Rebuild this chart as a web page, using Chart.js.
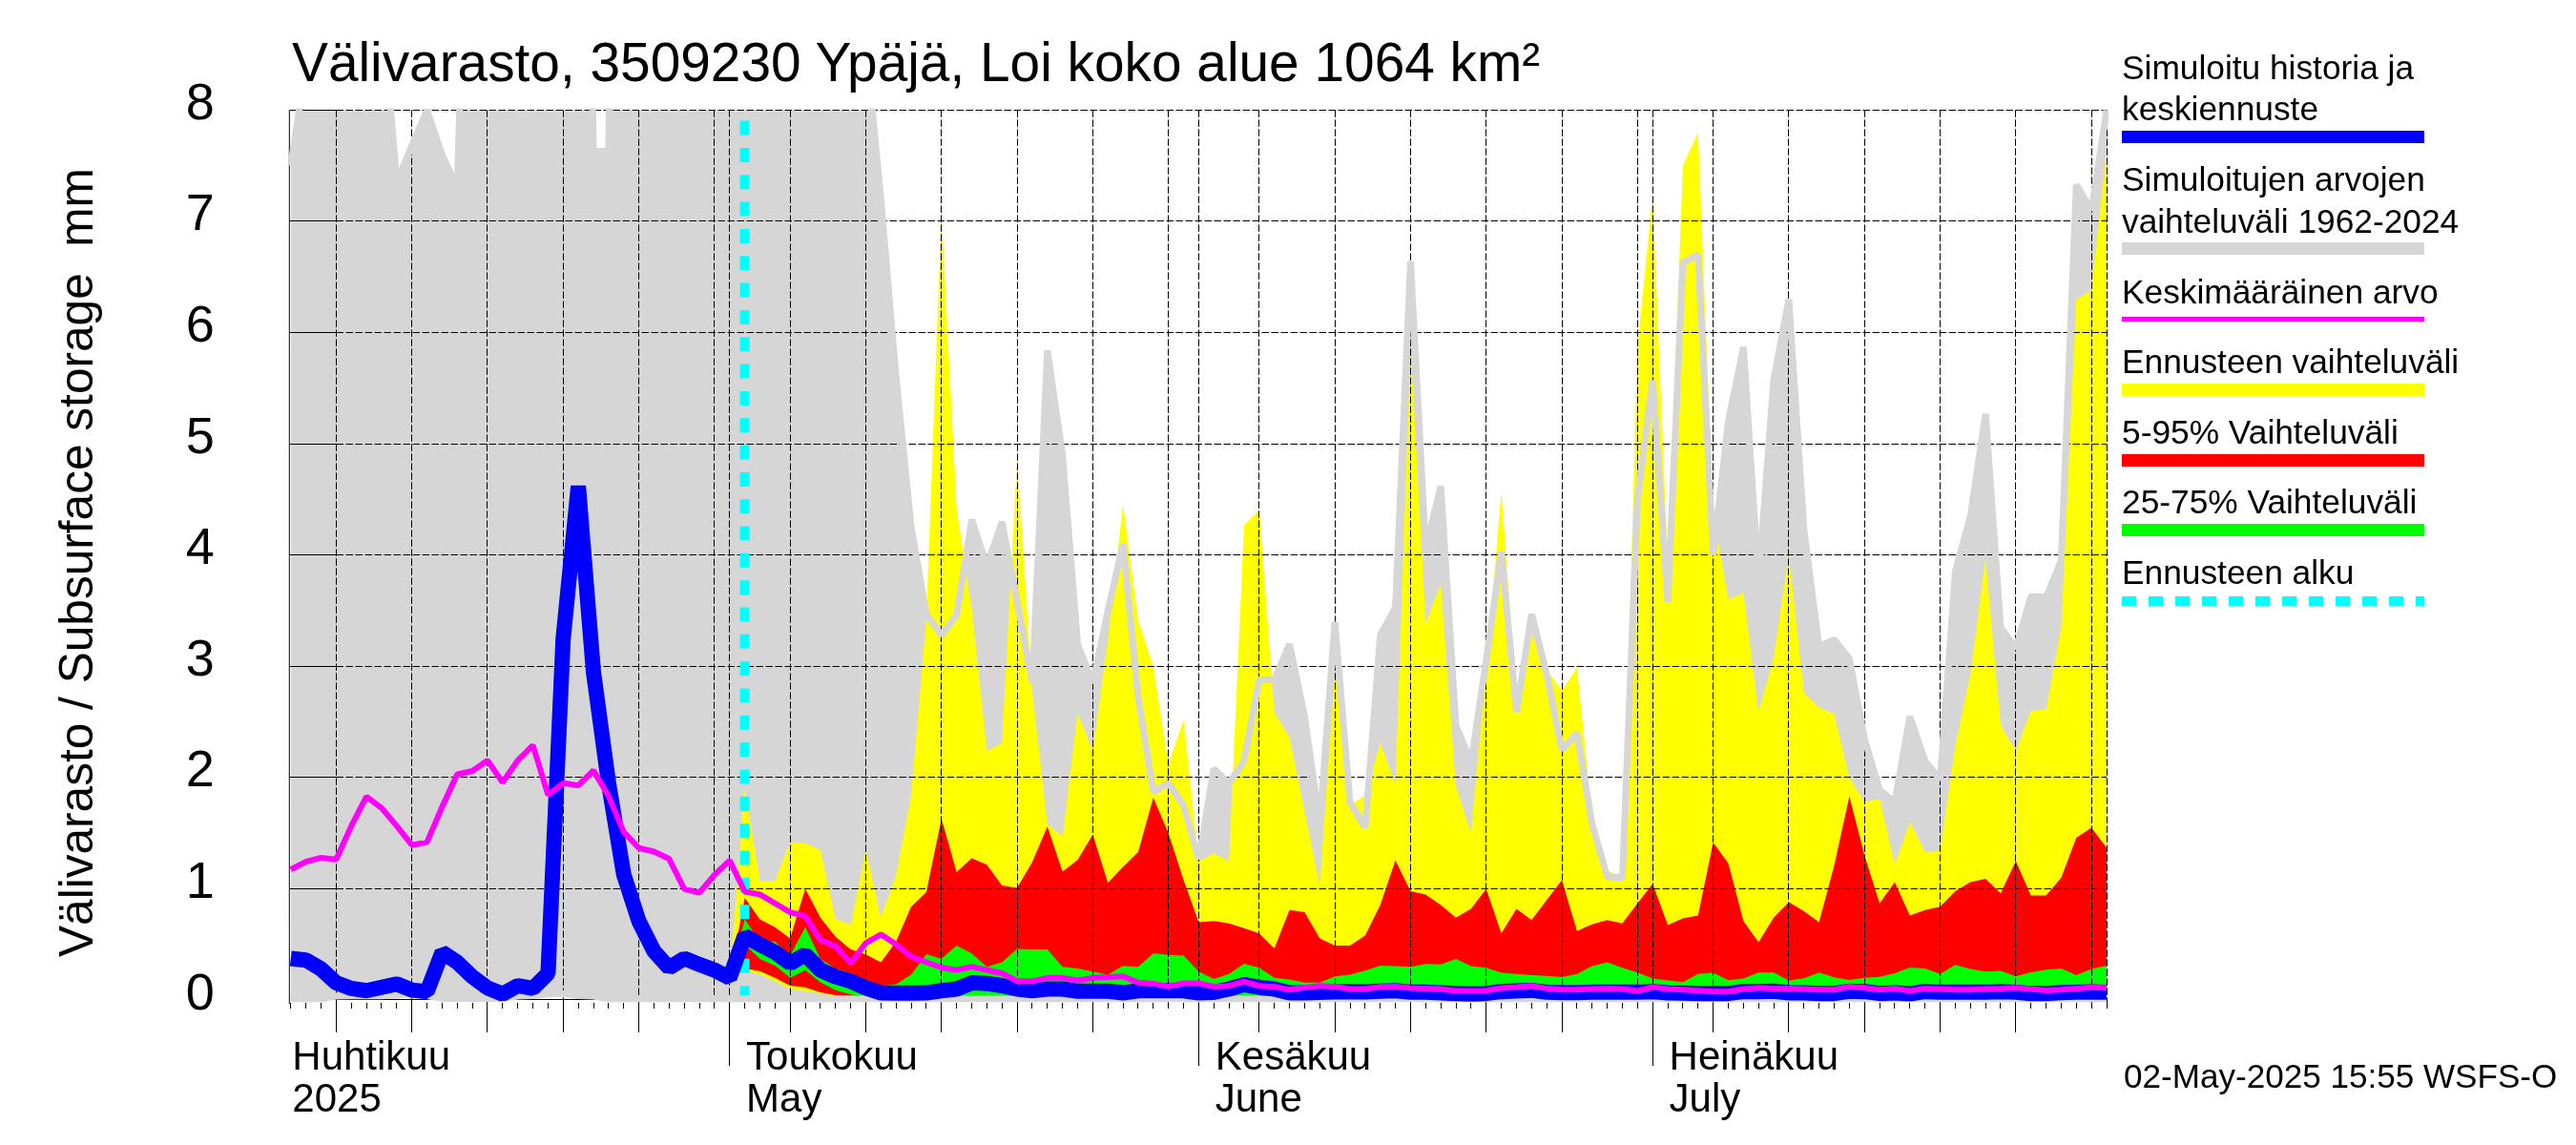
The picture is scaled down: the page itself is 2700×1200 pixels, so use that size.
<!DOCTYPE html>
<html>
<head>
<meta charset="utf-8">
<title>Välivarasto</title>
<script src="https://cdn.jsdelivr.net/npm/chart.js@4"></script>
<style>
    html, body { margin: 0; padding: 0; background: #ffffff; }
    #wrap { position: relative; width: 2700px; height: 1200px; overflow: hidden; }
    #chart { position: absolute; left: 0; top: 0; }
    .txt { position: absolute; white-space: pre; color: #000; line-height: 1; font-family: "Liberation Sans", sans-serif; }
    .swatch { position: absolute; left: 2224px; width: 317px; }
</style>
</head>
<body>
<div id="wrap"><canvas id="chart" width="2700" height="1200"></canvas></div>
<script>
// Values, one per day from 2 April to 31 July 2025
const beforeForecast = Array(29).fill(null);

const greyHigh = [
    7.5, 8.4, 9, 9.5, 9, 8.8, 9, 7.35, 7.68, 8.0,
    7.6, 7.3, 12, 10, 10, 10, 10, 10, 10, 16,
    7.63, 7.63, 16, 10, 10, 10, 10, 10, 10, 10,
    10, 10, 10, 10, 10, 10, 10, 10, 8.6, 7.2,
    5.6, 4.25, 3.47, 3.28, 3.46, 4.32, 3.9, 4.3, 3.58, 2.85,
    5.84, 4.9, 3.2, 2.85, 3.5, 4.1, 2.72, 1.87, 1.95, 1.75,
    1.27, 2.08, 1.95, 2.15, 2.88, 2.88, 3.2, 2.55, 1.58, 3.4,
    1.78, 1.55, 3.28, 3.53, 6.64, 4.06, 4.62, 2.47, 2.14, 3.05,
    4.03, 2.59, 3.47, 2.93, 2.25, 2.4, 1.58, 1.11, 1.10, 4.5,
    5.57, 3.58, 6.63, 6.7, 4.0, 5.2, 5.87, 3.77, 5.58, 6.3,
    4.23, 3.18, 3.24, 3.07, 2.35, 1.89, 1.78, 2.55, 2.15, 1.98,
    3.85, 4.35, 5.27, 3.35, 3.16, 3.63, 3.62, 3.95, 7.33, 7.1,
    8.0
];
const greyLow = [
    .012, .012, .012, .035, .037, .037, .038, .045, .055, .04,
    .015, .015, .015, .015, .015, .035, .04, .055, .06, .04,
    .035, .012, .012, .012, .012, .012, .012, .012, .012, .012,
    .012, .012, .012, .012, .012, .012, .012, .012, .012, .012,
    .012, .012, .012, .012, .012, .012, .012, .012, .012, .012,
    .012, .012, .012, .012, .012, .012, .012, .012, .012, .012,
    .012, .012, .012, .012, .012, .012, .012, .012, .012, .012,
    .012, .012, .012, .012, .012, .012, .012, .012, .012, .012,
    .012, .012, .012, .012, .012, .012, .012, .012, .012, .012,
    .012, .012, .012, .012, .012, .012, .012, .012, .012, .012,
    .012, .012, .012, .012, .012, .012, .012, .012, .012, .012,
    .012, .012, .012, .012, .012, .012, .012, .012, .012, .012,
    .012
];
const yellowHigh = [...beforeForecast,
    .2,
    1.90, 1.07, 1.07, 1.42, 1.41, 1.35, .73, .675, 1.35, .74,
    1.125, 1.84, 3.43, 7.09, 4.42, 3.52, 2.24, 2.31, 4.88, 2.78,
    1.58, 1.47, 2.58, 2.24, 3.24, 4.46, 3.41, 3.0, 2.12, 2.52,
    1.25, 1.32, 1.25, 4.27, 4.4, 2.59, 2.36, 1.69, 1.03, 2.95,
    1.75, 1.84, 2.31, 1.94, 5.88, 3.39, 3.74, 1.92, 1.5, 2.97,
    4.57, 2.72, 3.3, 2.97, 2.78, 2.99, 1.65, 1.17, 1.10, 5.88,
    7.24, 3.93, 7.5, 7.8, 4.39, 3.6, 3.66, 2.59, 3.08, 4.0,
    2.76, 2.63, 2.57, 2.0, 1.78, 1.81, 1.22, 1.6, 1.33, 1.34,
    2.29, 2.93, 3.97, 2.47, 2.24, 2.6, 2.61, 3.35, 6.3, 6.38,
    7.64
];
const yellowLow = [...beforeForecast,
    .2,
    .256, .23, .17, .10, .08, .06, .03, .02, .012, .01,
    .03, .03, .03, .03, .03, .03, .03, .03, .03, .03,
    .03, .03, .03, .03, .03, .03, .03, .03, .03, .03,
    .03, .03, .03, .03, .03, .03, .03, .03, .03, .03,
    .03, .03, .03, .03, .03, .03, .03, .03, .03, .03,
    .03, .03, .03, .03, .03, .03, .03, .03, .03, .03,
    .03, .03, .03, .03, .03, .03, .03, .03, .03, .03,
    .03, .03, .03, .03, .03, .03, .03, .03, .03, .03,
    .03, .03, .03, .03, .03, .03, .03, .03, .03, .03,
    .03
];
const redHigh = [...beforeForecast,
    .2,
    .92, .727, .655, .555, 1.0, .74, .57, .456, .41, .34,
    .527, .84, .97, 1.63, 1.15, 1.276, 1.216, 1.03, 1.01, 1.24,
    1.56, 1.154, 1.26, 1.487, 1.054, 1.197, 1.33, 1.82, 1.5, 1.08,
    .70, .71, .69, .647, .60, .465, .81, .79, .555, .49,
    .49, .58, .855, 1.256, .98, .95, .855, .74, .82, 1.0,
    .60, .82, .72, .90, 1.077, .62, .68, .72, .69, .87,
    1.045, .675, .735, .76, 1.416, 1.23, .71, .52, .74, .88,
    .80, .70, 1.21, 1.83, 1.30, .87, 1.06, .76, .81, .84,
    .98, 1.06, 1.09, .96, 1.25, .94, .94, 1.10, 1.46, 1.55,
    1.37
];
const redLow = [...beforeForecast,
    .2,
    .285, .26, .2, .13, .115, .07, .045, .03, .02, .015,
    .035, .035, .035, .035, .035, .035, .035, .035, .035, .035,
    .035, .035, .035, .035, .035, .035, .035, .035, .035, .035,
    .035, .035, .035, .035, .035, .035, .035, .035, .035, .035,
    .035, .035, .035, .035, .035, .035, .035, .035, .035, .035,
    .035, .035, .035, .035, .035, .035, .035, .035, .035, .035,
    .035, .035, .035, .035, .035, .035, .035, .035, .035, .035,
    .035, .035, .035, .035, .035, .035, .035, .035, .035, .035,
    .035, .035, .035, .035, .035, .035, .035, .035, .035, .035,
    .035
];
const greenHigh = [...beforeForecast,
    .2,
    .727, .527, .527, .40, .655, .37, .285, .242, .185, .128,
    .142, .228, .413, .37, .49, .42, .30, .34, .46, .456,
    .456, .30, .285, .256, .228, .308, .30, .42, .407, .40,
    .256, .19, .234, .328, .29, .2, .185, .157, .157, .214,
    .228, .265, .31, .305, .30, .325, .32, .37, .305, .29,
    .245, .236, .225, .217, .208, .234, .305, .34, .29, .248,
    .194, .177, .162, .236, .245, .18, .194, .248, .248, .177,
    .197, .248, .205, .182, .2, .21, .242, .293, .285, .236,
    .316, .28, .256, .262, .214, .25, .274, .285, .225, .28,
    .31
];
const greenLow = [...beforeForecast,
    .2,
    .5, .37, .31, .2, .27, .16, .09, .05, .03, .02,
    .045, .045, .045, .045, .045, .045, .045, .045, .045, .045,
    .045, .045, .045, .045, .045, .045, .045, .045, .045, .045,
    .045, .045, .045, .045, .045, .045, .045, .045, .045, .045,
    .045, .045, .045, .045, .045, .045, .045, .045, .045, .045,
    .045, .045, .045, .045, .045, .045, .045, .045, .045, .045,
    .045, .045, .045, .045, .045, .045, .045, .045, .045, .045,
    .045, .045, .045, .045, .045, .045, .045, .045, .045, .045,
    .045, .045, .045, .045, .045, .045, .045, .045, .045, .045,
    .045
];
const blueLine = [
    .375, .36, .28, .155, .105, .085, .115, .145, .09, .075,
    .43, .34, .21, .11, .055, .13, .105, .24, 3.25, 4.62,
    2.95, 1.95, 1.13, .71, .44, .29, .375, .32, .27, .2,
    .58, .5, .43, .33, .41, .27, .21, .17, .11, .065,
    .063, .063, .065, .085, .10, .155, .15, .13, .10, .085,
    .10, .10, .08, .08, .08, .065, .085, .085, .085, .085,
    .065, .07, .10, .14, .115, .10, .065, .065, .07, .075,
    .077, .074, .08, .085, .071, .071, .066, .06, .054, .06,
    .077, .083, .088, .071, .068, .068, .071, .071, .071, .071,
    .077, .066, .063, .06, .06, .06, .077, .077, .08, .066,
    .066, .06, .06, .08, .077, .06, .066, .057, .077, .071,
    .071, .071, .071, .077, .071, .06, .06, .068, .071, .074,
    .071
];
const magentaLine = [
    1.174, 1.244, 1.28, 1.265, 1.565, 1.83, 1.727, 1.565, 1.394, 1.42,
    1.737, 2.03, 2.06, 2.155, 1.957, 2.155, 2.29, 1.845, 1.95, 1.93,
    2.064, 1.834, 1.512, 1.367, 1.335, 1.27, 1.0, .965, 1.126, 1.255,
    .975, .95, .87, .79, .755, .54, .485, .333, .513, .59,
    .50, .39, .34, .293, .27, .30, .27, .242, .17, .17,
    .2, .2, .177, .2, .208, .214, .157, .148, .122, .151,
    .151, .122, .128, .165, .128, .12, .094, .114, .128, .122,
    .10, .10, .12, .122, .108, .105, .10, .083, .083, .085,
    .108, .117, .128, .105, .094, .094, .10, .105, .10, .083,
    .117, .10, .094, .085, .077, .077, .10, .111, .105, .105,
    .10, .094, .094, .122, .111, .094, .105, .083, .105, .10,
    .094, .094, .10, .105, .111, .10, .088, .094, .105, .114,
    .111
];

// Day numbers on the x axis, 0 = 2 April
const forecastStartDay = 30;
const forecastMarker = [0, 8];
const yTicks = [0, 1, 2, 3, 4, 5, 6, 7, 8];
const monthLabelDays = [0, 30, 61, 91];
const monthLabels = [['Huhtikuu', '2025'], ['Toukokuu', 'May'], ['Kesäkuu', 'June'], ['Heinäkuu', 'July']];
const monthStartDays = [29, 60, 90];
const fiveDayTicks = [3, 8, 13, 18, 23, 33, 38, 43, 48, 53, 64, 69, 74, 79, 84, 94, 99, 104, 109, 114];
const extraGridDays = [28, 58, 89, 119, 120];

const titleText = 'Välivarasto, 3509230 Ypäjä, Loi koko alue 1064 km²';
const yTitleText = 'Välivarasto / Subsurface storage  mm';
const stampText = '02-May-2025 15:55 WSFS-O';
// text lines as [text, baseline], swatches as [colour, top, height]
const legendLines = [
    ['Simuloitu historia ja', 83], ['keskiennuste', 126],
    ['Simuloitujen arvojen', 200], ['vaihteluväli 1962-2024', 243.5],
    ['Keskimääräinen arvo', 318],
    ['Ennusteen vaihteluväli', 391],
    ['5-95% Vaihteluväli', 465],
    ['25-75% Vaihteluväli', 538],
    ['Ennusteen alku', 611.5]
];
const legendSwatches = [
    ['#0000ff', 137, 13], ['#d6d6d6', 254, 13], ['#ff00ff', 332, 5],
    ['#ffff00', 402, 13], ['#ff0000', 476, 13], ['#00ff00', 549, 13]
];

const xy = (values) => values.map((v, i) => ({ x: i, y: v }));

function addText(text, left, baseline, size) {
    const el = document.createElement('div');
    el.className = 'txt';
    el.textContent = text;
    el.style.left = left + 'px';
    el.style.top = (baseline - size * 0.8465) + 'px';
    el.style.fontSize = size + 'px';
    document.getElementById('wrap').appendChild(el);
    return el;
}

addText(titleText, 306, 86, 56.8);
addText(stampText, 2226, 1140, 35.1);
legendLines.forEach(([t, b]) => addText(t, 2224, b, 35.3));
legendSwatches.forEach(([c, top, h]) => {
    const el = document.createElement('div');
    el.className = 'swatch';
    el.style.top = top + 'px';
    el.style.height = h + 'px';
    el.style.background = c;
    document.getElementById('wrap').appendChild(el);
});
const cyanSwatch = document.createElement('div');
cyanSwatch.className = 'swatch';
cyanSwatch.style.top = '625px';
cyanSwatch.style.height = '10px';
cyanSwatch.style.background = 'repeating-linear-gradient(90deg, #00ffff 0 15px, transparent 15px 28px)';
document.getElementById('wrap').appendChild(cyanSwatch);

const yTitle = addText(yTitleText, 55.5, 97.5, 49.6);
yTitle.style.top = '1003px';
yTitle.style.transformOrigin = '0 0';
yTitle.style.transform = 'rotate(-90deg)';

// Grid sits above the fills but under the cyan marker, the grey edge and the lines
const GRID_UNDER = 4;
const gridPlugin = {
    id: 'gridPlugin',
    beforeDatasetsDraw(chart) {
        const { ctx, chartArea, scales } = chart;
        const yAxis = Math.round(scales.y.getPixelForValue(0)) - 0.5;
        ctx.save();
        ctx.strokeStyle = '#000';
        ctx.lineWidth = 1;
        ctx.beginPath();
        ctx.moveTo(chartArea.left, yAxis);
        ctx.lineTo(chartArea.right, yAxis);
        ctx.stroke();
        ctx.restore();
    },
    beforeDatasetDraw(chart, args) {
        if (args.index !== GRID_UNDER) return;
        const { ctx, chartArea, scales } = chart;
        const { left, right, top, bottom } = chartArea;
        const firstGrid = Math.floor(scales.x.getPixelForValue(fiveDayTicks[0])) + 0.5;
        ctx.save();
        ctx.strokeStyle = '#000';
        ctx.lineWidth = 1;
        ctx.setLineDash([7.5, 2.5]);
        [...fiveDayTicks, ...monthStartDays, ...extraGridDays].forEach((d) => {
            const px = Math.floor(scales.x.getPixelForValue(d)) + 0.5;
            ctx.beginPath();
            ctx.moveTo(px, top);
            ctx.lineTo(px, bottom);
            ctx.stroke();
        });
        yTicks.slice(1).forEach((v) => {
            const py = Math.floor(scales.y.getPixelForValue(v)) + 0.5;
            ctx.beginPath();
            ctx.moveTo(firstGrid, py);
            ctx.lineTo(right, py);
            ctx.stroke();
        });
        ctx.setLineDash([]);
        yTicks.slice(1).forEach((v) => {
            const py = Math.floor(scales.y.getPixelForValue(v)) + 0.5;
            ctx.beginPath();
            ctx.moveTo(left - 1, py);
            ctx.lineTo(firstGrid, py);
            ctx.stroke();
        });
        ctx.beginPath();
        ctx.moveTo(left - 1.5, top);
        ctx.lineTo(left - 1.5, bottom);
        ctx.stroke();
        ctx.restore();
    },
    afterDraw(chart) {
        const { ctx, chartArea, scales } = chart;
        const { bottom } = chartArea;
        ctx.save();
        ctx.strokeStyle = '#000';
        ctx.lineWidth = 1;
        ctx.beginPath();
        for (let d = 0; d <= 120; d++) {
            let end = 1057;
            if (fiveDayTicks.includes(d)) end = 1082;
            if (monthStartDays.includes(d)) end = 1117;
            const px = Math.floor(scales.x.getPixelForValue(d)) + 0.5;
            ctx.moveTo(px, bottom - 1);
            ctx.lineTo(px, end);
        }
        ctx.stroke();
        ctx.restore();
    }
};

const thinFill = { borderWidth: 0, pointRadius: 0, tension: 0, clip: 2 };
const stroke = (color, width) => ({
    borderColor: color, borderWidth: width, borderJoinStyle: 'bevel', borderCapStyle: 'butt',
    pointRadius: 0, tension: 0, fill: false, clip: 2
});

new Chart(document.getElementById('chart'), {
    type: 'line',
    data: {
        datasets: [
            // first in the list is painted last
            { label: 'Keskimääräinen arvo', data: xy(magentaLine), ...stroke('#ff00ff', 6) },
            { label: 'Simuloitu historia ja keskiennuste', data: xy(blueLine), ...stroke('#0000ff', 16) },
            { label: 'grey edge high', data: xy(greyHigh), ...stroke('#d6d6d6', 7) },
            { label: 'grey edge low', data: xy(greyLow), ...stroke('#d6d6d6', 7) },
            { label: 'Ennusteen alku', data: forecastMarker.map((v) => ({ x: forecastStartDay, y: v })), ...stroke('#00ffff', 10), borderDash: [15, 13.33] },
            { label: '25-75% Vaihteluväli', data: xy(greenHigh), ...thinFill, backgroundColor: '#00ff00', fill: { target: 6 } },
            { label: 'green low', data: xy(greenLow), ...thinFill, fill: false },
            { label: '5-95% Vaihteluväli', data: xy(redHigh), ...thinFill, backgroundColor: '#ff0000', fill: { target: 8 } },
            { label: 'red low', data: xy(redLow), ...thinFill, fill: false },
            { label: 'Ennusteen vaihteluväli', data: xy(yellowHigh), ...thinFill, backgroundColor: '#ffff00', fill: { target: 10 } },
            { label: 'yellow low', data: xy(yellowLow), ...thinFill, fill: false },
            { label: 'Simuloitujen arvojen vaihteluväli 1962-2024', data: xy(greyHigh), ...thinFill, backgroundColor: '#d6d6d6', fill: { target: 12 } },
            { label: 'grey low', data: xy(greyLow), ...thinFill, fill: false }
        ]
    },
    options: {
        responsive: false,
        animation: false,
        devicePixelRatio: 1,
        layout: { padding: { left: 0, top: 115.4, right: 492, bottom: 0 } },
        plugins: { legend: { display: false }, title: { display: false }, tooltip: { enabled: false } },
        scales: {
            x: {
                type: 'linear',
                min: 0,
                max: 120,
                grid: { display: false, drawTicks: false },
                border: { display: false },
                afterFit: (axis) => { axis.height = 148; },
                afterBuildTicks: (axis) => { axis.ticks = monthLabelDays.map((d) => ({ value: d })); },
                ticks: {
                    autoSkip: false,
                    maxRotation: 0,
                    minRotation: 0,
                    align: 'start',
                    padding: 36,
                    labelOffset: 1.5,
                    color: '#000',
                    font: { family: 'Liberation Sans', size: 42, lineHeight: 1.035 },
                    callback: (value) => monthLabels[monthLabelDays.indexOf(value)]
                }
            },
            y: {
                type: 'linear',
                min: -0.033,
                max: 8,
                grid: { display: false, drawTicks: false },
                border: { display: false },
                afterFit: (axis) => { axis.width = 304.8; },
                afterBuildTicks: (axis) => { axis.ticks = yTicks.map((v) => ({ value: v })); },
                ticks: {
                    padding: 80,
                    labelOffset: -5.5,
                    color: '#000',
                    font: { family: 'Liberation Sans', size: 54 },
                    callback: (value) => String(value)
                }
            }
        }
    },
    plugins: [gridPlugin]
});
</script>
</body>
</html>
